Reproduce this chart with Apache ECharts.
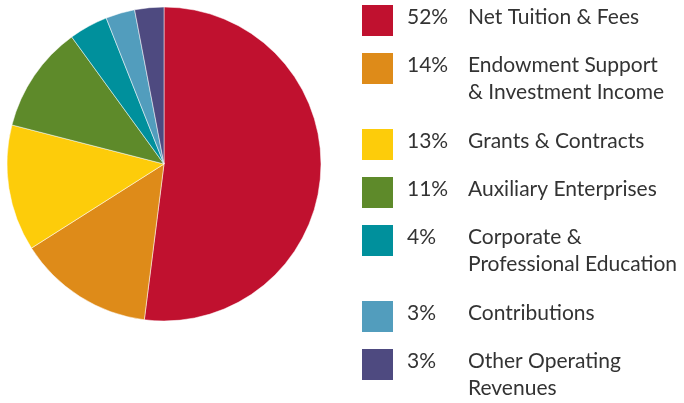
<!DOCTYPE html>
<html>
<head>
<meta charset="utf-8">
<script src="https://cdn.jsdelivr.net/npm/echarts@6.0.0/dist/echarts.min.js"></script>
<style>
  html, body { margin: 0; padding: 0; background: #fff; }
  #chart { width: 684px; height: 403px; }
</style>
</head>
<body>
<div id="chart"></div>
<script>
const names = [
    'Net Tuition & Fees',
    'Endowment Support\n& Investment Income',
    'Grants & Contracts',
    'Auxiliary Enterprises',
    'Corporate &\nProfessional Education',
    'Contributions',
    'Other Operating\nRevenues'
]
const values = [52, 14, 13, 11, 4, 3, 3]
const colors = ['#c0112f', '#de8b19', '#fdcc0a', '#5e8a2a', '#00909c', '#529dbd', '#4e4a80']

const textColor = '#333333'
const fontFamily = 'Lato, "Open Sans", sans-serif'

// legend rows built by hand, the two-line labels need the first line next to the box
function buildLegend() {
    const items = []
    let center = 20.5
    names.forEach((name, i) => {
        items.push({
            type: 'rect',
            shape: { x: 362, y: center - 15.5, width: 31, height: 31 },
            style: { fill: colors[i] }
        })
        items.push({
            type: 'text',
            x: 407,
            y: center - 3,
            style: {
                text: values[i] + '%',
                fill: textColor,
                font: '21px ' + fontFamily,
                verticalAlign: 'middle'
            }
        })
        const lines = name.split('\n')
        lines.forEach((line, j) => {
            items.push({
                type: 'text',
                x: 468,
                y: center - 3 + j * 27,
                style: {
                    text: line,
                    fill: textColor,
                    font: '21px ' + fontFamily,
                    verticalAlign: 'middle'
                }
            })
        })
        center += 48 + (lines.length - 1) * 28
    })
    return items
}

const chart = echarts.init(document.getElementById('chart'))

chart.setOption({
    animation: false,
    color: colors,
    series: [{
        type: 'pie',
        center: [164, 164],
        radius: 157,
        startAngle: 90,
        clockwise: true,
        label: { show: false },
        labelLine: { show: false },
        emphasis: { disabled: true },
        itemStyle: { borderColor: '#ffffff', borderWidth: 0.5 },
        data: names.map((n, i) => ({ name: n, value: values[i] }))
    }],
    graphic: buildLegend()
})
</script>
</body>
</html>
